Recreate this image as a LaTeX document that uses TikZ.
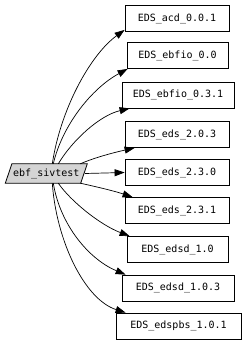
\documentclass[tikz,border=0pt]{standalone}
\usepackage{fontspec}
\setmonofont{DejaVu Sans Mono}
\usetikzlibrary{arrows.meta,calc,backgrounds}
\begin{document}
\begin{tikzpicture}[x=1pt,y=-1pt,
  every node/.style={font=\ttfamily\fontsize{10}{12}\selectfont},
  pkg/.style={draw,line width=0.8pt,minimum height=26pt,inner sep=0pt},
  srcbox/.style={minimum width=75pt,minimum height=19pt,inner sep=0pt},
  dep/.style={line width=0.7pt,-{Triangle[length=10pt,width=7pt]}}]
\useasboundingbox (0,0) rectangle (245,344);
\node[srcbox] (src) at (46.3,173.5) {ebf\_sivtest};
\begin{scope}[on background layer]
\filldraw[fill=black!17,line width=0.8pt]
  ($(src.north west)+(3.3,0)$) -- ($(src.north east)+(3.3,0)$) --
  ($(src.south east)+(-3.3,0)$) -- ($(src.south west)+(-3.3,0)$) -- cycle;
\end{scope}
\node[pkg,minimum width=104pt] (b1) at (177,18.5) {EDS\_acd\_0.0.1};
\node[pkg,minimum width=101pt] (b2) at (177.5,55.5) {EDS\_ebfio\_0.0};
\node[pkg,minimum width=112pt] (b3) at (178,95) {EDS\_ebfio\_0.3.1};
\node[pkg,minimum width=104pt] (b4) at (177,134.5) {EDS\_eds\_2.0.3};
\node[pkg,minimum width=104pt] (b5) at (177,172.5) {EDS\_eds\_2.3.0};
\node[pkg,minimum width=104pt] (b6) at (177,210.5) {EDS\_eds\_2.3.1};
\node[pkg,minimum width=101pt] (b7) at (177.5,249.5) {EDS\_edsd\_1.0};
\node[pkg,minimum width=112pt] (b8) at (178,288) {EDS\_edsd\_1.0.3};
\node[pkg,minimum width=125pt] (b9) at (178.5,326) {EDS\_edspbs\_1.0.1};
\draw[dep] ($(src.north)+(6,0)$) .. controls +(8,-53.5) and +(-35,25.5) .. ($(b1.south west)+(0,-2)$);
\draw[dep] ($(src.north)+(7,0)$) .. controls +(9,-38.5) and +(-36,19.5) .. ($(b2.south west)+(1,0)$);
\draw[dep] ($(src.north)+(12,0)$) .. controls +(14,-23.5) and +(-30,7) .. ($(b3.south west)+(8,0)$);
\draw[dep] ($(src.north)+(34,0)$) .. controls +(15,-6.5) and +(-20,4.5) .. ($(b4.south west)+(10,0)$);
\draw[dep] ($(src.east)+(1,0)$) -- (b5.west);
\draw[dep] ($(src.south)+(34,0)$) .. controls +(18,4) and +(-18,-6) .. ($(b6.north west)+(8,0)$);
\draw[dep] ($(src.south)+(12,0)$) .. controls +(12,17.5) and +(-30,-11.5) .. ($(b7.north west)+(3,0)$);
\draw[dep] ($(src.south)+(7,0)$) .. controls +(7,42.5) and +(-36,-15) .. ($(b8.north west)+(4,0)$);
\draw[dep] ($(src.south)+(6,0)$) .. controls +(4,57.5) and +(-41,-13) .. ($(b9.north west)+(10,0)$);
\end{tikzpicture}
\end{document}
